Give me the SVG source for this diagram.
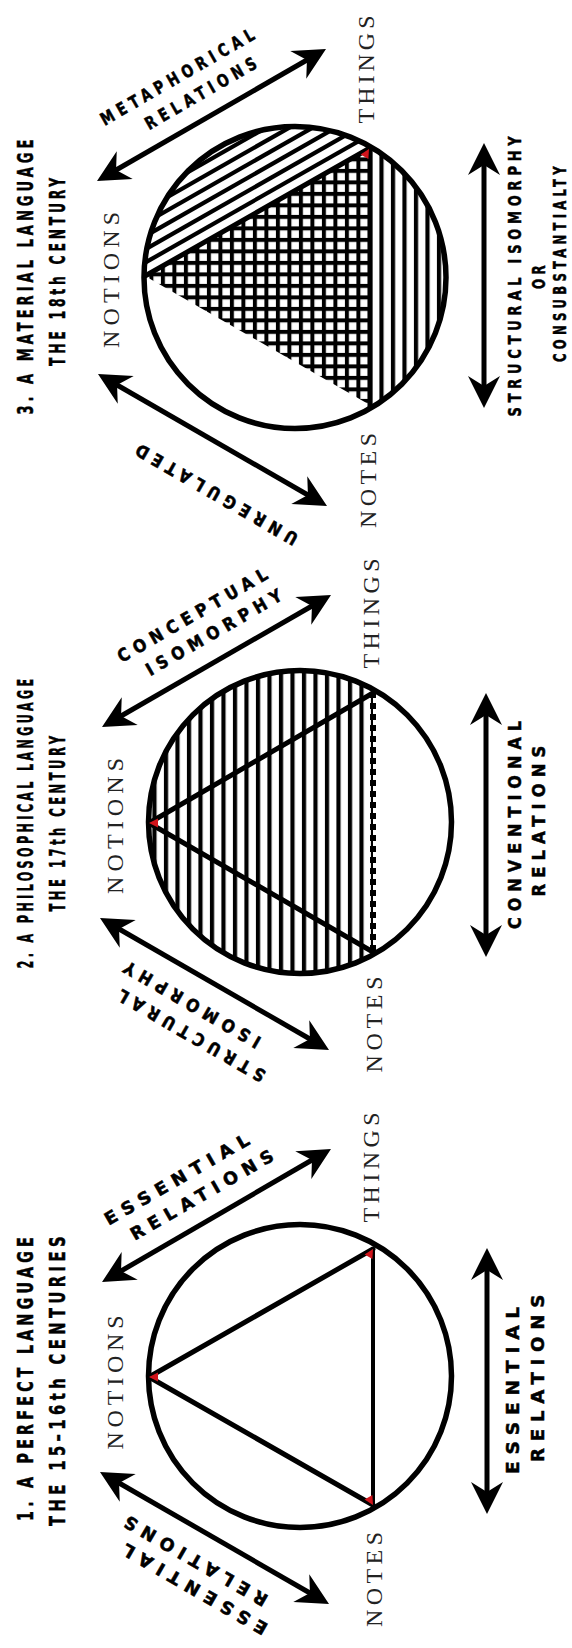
<svg xmlns="http://www.w3.org/2000/svg" width="572" height="1648" viewBox="0 0 572 1648">
<style>
.t{font-family:'Liberation Sans Narrow','DejaVu Sans Condensed','Liberation Sans',sans-serif;font-weight:bold;fill:#000;stroke:#000;stroke-width:0.5;text-anchor:middle}
.title{font-size:22px;letter-spacing:6px}
.lab{font-size:17.5px;letter-spacing:6px}
.rl{font-size:18px;letter-spacing:6px}
.s{font-family:'Liberation Serif','Times New Roman',serif;font-size:24px;fill:#222;letter-spacing:5px;text-anchor:middle}
.circ{fill:none;stroke:#000;stroke-width:5.5}
.edge{stroke:#000;stroke-width:5;stroke-linecap:round}
.arr{fill:none;stroke:#000;stroke-width:5;marker-start:url(#ah);marker-end:url(#ah)}
.red{fill:#d0141b}
.hs{stroke:#000;stroke-width:4.2}
</style>
<defs>
<marker id="ah" viewBox="-34 -17 36 34" markerWidth="36" markerHeight="34" refX="-12" refY="0" orient="auto-start-reverse" markerUnits="userSpaceOnUse">
<path d="M0,0 L-32,-16 L-22,0 L-32,16 Z" fill="#000"/>
</marker>
<pattern id="vs2" patternUnits="userSpaceOnUse" x="370.9" y="0" width="11.5" height="20"><rect x="0" y="0" width="4.2" height="20" fill="#000"/></pattern>
<pattern id="vs3" patternUnits="userSpaceOnUse" x="367.9" y="0" width="11.5" height="20"><rect x="0" y="0" width="4.2" height="20" fill="#000"/></pattern>
<pattern id="grid3" patternUnits="userSpaceOnUse" x="367.9" y="145.9" width="11.5" height="11.5"><rect x="0" y="0" width="4" height="11.5" fill="#000"/><rect x="0" y="0" width="11.5" height="4" fill="#000"/></pattern>
<clipPath id="c3"><circle cx="295" cy="277.5" r="151"/></clipPath>
<clipPath id="above3"><polygon points="100,301.6 460,96.8 460,0 100,0"/></clipPath>
</defs>
<rect x="0" y="0" width="572" height="1648" fill="#fff"/>

<!-- connectors -->
<g id="connectors">
<line class="arr" x1="112.4" y1="1276" x2="320.6" y2="1155"/>
<line class="arr" x1="110.4" y1="1478" x2="318.6" y2="1598"/>
<line class="arr" x1="487" y1="1260" x2="487" y2="1502"/>
<line class="arr" x1="112.4" y1="721" x2="320.6" y2="601"/>
<line class="arr" x1="110.4" y1="924" x2="318.6" y2="1044"/>
<line class="arr" x1="486" y1="705" x2="486" y2="945"/>
<line class="arr" x1="107.4" y1="175" x2="315.6" y2="55"/>
<line class="arr" x1="108.4" y1="380" x2="316.6" y2="500"/>
<line class="arr" x1="484" y1="155" x2="484" y2="396"/>
</g>

<!-- PANEL 1 -->
<g id="title1">
<text class="t title" transform="translate(33,1377) rotate(-90)" textLength="288" lengthAdjust="spacingAndGlyphs">1. A PERFECT LANGUAGE</text>
<text class="t title" transform="translate(65,1379) rotate(-90)" textLength="294" lengthAdjust="spacingAndGlyphs">THE 15–16th CENTURIES</text>
</g>
<g id="diagram1">
<circle class="circ" cx="300" cy="1376" r="151.5"/>
<line class="edge" x1="149" y1="1377" x2="373" y2="1249"/>
<line class="edge" x1="149" y1="1377" x2="373" y2="1505"/>
<line stroke="#000" stroke-width="4" x1="373" y1="1249" x2="373" y2="1505"/>
<polygon class="red" points="149,1377 158,1372.5 158,1381.5"/>
<polygon class="red" points="373,1249 372.4,1259.1 364.6,1254.6"/>
<polygon class="red" points="373,1505 372.4,1495 364.6,1499.5"/>
</g>
<g id="notions1"><text class="s" transform="translate(123,1380) rotate(-90)" textLength="139" lengthAdjust="spacing">NOTIONS</text></g>
<g id="things1"><text class="s" transform="translate(379,1165) rotate(-90)" textLength="115" lengthAdjust="spacing">THINGS</text></g>
<g id="notes1"><text class="s" transform="translate(382,1577) rotate(-90)" textLength="100" lengthAdjust="spacing">NOTES</text></g>
<g id="label1a" transform="translate(216.5,1215.5) rotate(-30)">
<text class="t lab" x="-13" y="-45" textLength="171" lengthAdjust="spacingAndGlyphs">ESSENTIAL</text>
<text class="t lab" x="1" y="-19" textLength="169" lengthAdjust="spacingAndGlyphs">RELATIONS</text>
</g>
<g id="label1b" transform="translate(214.5,1538) rotate(210)">
<text class="t lab" x="-5" y="-48" textLength="171" lengthAdjust="spacingAndGlyphs">ESSENTIAL</text>
<text class="t lab" x="8" y="-23" textLength="169" lengthAdjust="spacingAndGlyphs">RELATIONS</text>
</g>
<g id="label1c">
<text class="t rl" transform="translate(519,1387) rotate(-90)" textLength="174" lengthAdjust="spacingAndGlyphs">ESSENTIAL</text>
<text class="t rl" transform="translate(544,1375) rotate(-90)" textLength="174" lengthAdjust="spacingAndGlyphs">RELATIONS</text>
</g>

<!-- PANEL 2 -->
<g id="title2">
<text class="t title" transform="translate(33,822) rotate(-90)" textLength="293" lengthAdjust="spacingAndGlyphs">2. A PHILOSOPHICAL LANGUAGE</text>
<text class="t title" transform="translate(65,822) rotate(-90)" textLength="179" lengthAdjust="spacingAndGlyphs">THE 17th CENTURY</text>
</g>
<g id="diagram2">
<path d="M373,689.2 A151.5,151.5 0 1 0 373,954.8 Z" fill="url(#vs2)"/>
<line class="edge" x1="149" y1="823" x2="373" y2="693"/>
<line class="edge" x1="149" y1="823" x2="373" y2="952"/>
<line stroke="#000" stroke-width="6" stroke-dasharray="6 5" x1="373" y1="692" x2="373" y2="952"/>
<circle class="circ" cx="300" cy="822" r="151.5"/>
<polygon class="red" points="149,823 158,818.5 158,827.5"/>
</g>
<g id="notions2"><text class="s" transform="translate(123,823.5) rotate(-90)" textLength="141" lengthAdjust="spacing">NOTIONS</text></g>
<g id="things2"><text class="s" transform="translate(379,611) rotate(-90)" textLength="115" lengthAdjust="spacing">THINGS</text></g>
<g id="notes2"><text class="s" transform="translate(382,1022) rotate(-90)" textLength="101" lengthAdjust="spacing">NOTES</text></g>
<g id="label2a" transform="translate(216.5,661) rotate(-30)">
<text class="t lab" x="5" y="-45.5" textLength="176" lengthAdjust="spacingAndGlyphs">CONCEPTUAL</text>
<text class="t lab" x="15" y="-20" textLength="160" lengthAdjust="spacingAndGlyphs">ISOMORPHY</text>
</g>
<g id="label2b" transform="translate(214.5,984) rotate(210)">
<text class="t lab" x="-3" y="-50" textLength="173" lengthAdjust="spacingAndGlyphs">STRUCTURAL</text>
<text class="t lab" x="12" y="-23" textLength="161" lengthAdjust="spacingAndGlyphs">ISOMORPHY</text>
</g>
<g id="label2c">
<text class="t rl" transform="translate(521,822) rotate(-90)" textLength="214" lengthAdjust="spacingAndGlyphs">CONVENTIONAL</text>
<text class="t rl" transform="translate(545,818) rotate(-90)" textLength="157" lengthAdjust="spacingAndGlyphs">RELATIONS</text>
</g>

<!-- PANEL 3 -->
<g id="title3">
<text class="t title" transform="translate(33,275) rotate(-90)" textLength="279" lengthAdjust="spacingAndGlyphs">3. A MATERIAL LANGUAGE</text>
<text class="t title" transform="translate(65,270) rotate(-90)" textLength="192" lengthAdjust="spacingAndGlyphs">THE 18th CENTURY</text>
</g>
<g id="diagram3">
<g clip-path="url(#c3)"><g clip-path="url(#above3)">
<line class="hs" x1="52.4" y1="315.4" x2="486.9" y2="68.2"/>
<line class="hs" x1="46.7" y1="305.4" x2="481.2" y2="58.2"/>
<line class="hs" x1="41" y1="295.4" x2="475.5" y2="48.2"/>
<line class="hs" x1="35.4" y1="285.4" x2="469.9" y2="38.2"/>
<line class="hs" x1="29.7" y1="275.4" x2="464.2" y2="28.2"/>
<line class="hs" x1="24" y1="265.4" x2="458.5" y2="18.2"/>
</g></g>
<polygon points="145,276 370,148 370,405" fill="url(#grid3)"/>
<path d="M370,146.4 A151,151 0 0 1 370,408.6 Z" fill="url(#vs3)"/>
<line class="edge" x1="145" y1="276" x2="370" y2="148"/>
<line stroke="#000" stroke-width="5" x1="370" y1="146" x2="370" y2="407"/>
<circle class="circ" cx="295" cy="277.5" r="151"/>
<polygon class="red" points="369,149 368.4,159.1 360.6,154.6"/>
</g>
<g id="notions3"><text class="s" transform="translate(119,277.5) rotate(-90)" textLength="141" lengthAdjust="spacing">NOTIONS</text></g>
<g id="things3"><text class="s" transform="translate(374,67) rotate(-90)" textLength="113" lengthAdjust="spacing">THINGS</text></g>
<g id="notes3"><text class="s" transform="translate(376,478) rotate(-90)" textLength="100" lengthAdjust="spacing">NOTES</text></g>
<g id="label3a" transform="translate(211.5,115) rotate(-30)">
<text class="t lab" x="-8" y="-44" textLength="180" lengthAdjust="spacingAndGlyphs">METAPHORICAL</text>
<text class="t lab" x="4" y="-18" textLength="131" lengthAdjust="spacingAndGlyphs">RELATIONS</text>
</g>
<g id="label3b" transform="translate(212.5,440) rotate(210)">
<text class="t lab" x="-28" y="-39" textLength="190" lengthAdjust="spacingAndGlyphs">UNREGULATED</text>
</g>
<g id="label3c">
<text class="t rl" transform="translate(521,274) rotate(-90)" textLength="285" lengthAdjust="spacingAndGlyphs">STRUCTURAL  ISOMORPHY</text>
<text class="t rl" transform="translate(545,275) rotate(-90)" textLength="28" lengthAdjust="spacingAndGlyphs">OR</text>
<text class="t rl" transform="translate(566,262) rotate(-90)" textLength="200" lengthAdjust="spacingAndGlyphs">CONSUBSTANTIALTY</text>
</g>
</svg>
